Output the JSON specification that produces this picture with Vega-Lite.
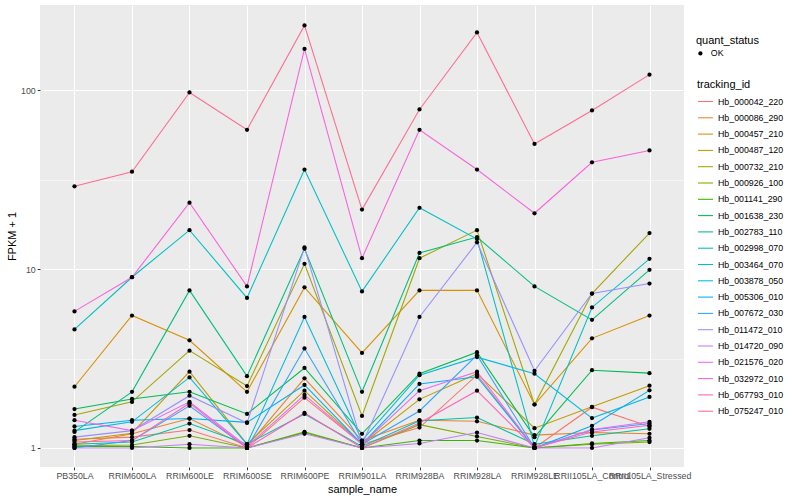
{
  "$schema": "https://vega.github.io/schema/vega-lite/v6.json",
  "autosize": "none",
  "width": 644,
  "height": 462,
  "padding": {"left": 40, "top": 5, "right": 116, "bottom": 33},
  "background": "white",
  "config": {
    "font": "Liberation Sans",
    "view": {"fill": "#EBEBEB", "stroke": null},
    "axis": {
      "domain": false,
      "gridColor": "white",
      "tickColor": "#333333",
      "tickSize": 2.75,
      "tickWidth": 1,
      "labelColor": "#4D4D4D",
      "labelFontSize": 8.8,
      "labelFont": "Liberation Sans",
      "titleFont": "Liberation Sans",
      "titleFontSize": 11,
      "titleFontWeight": "normal",
      "titleColor": "black",
      "labelPadding": 2
    },
    "legend": {
      "titleFont": "Liberation Sans",
      "titleFontSize": 11,
      "titleFontWeight": "normal",
      "titleColor": "black",
      "labelFont": "Liberation Sans",
      "labelFontSize": 8.8,
      "labelColor": "black",
      "padding": 0,
      "titlePadding": 3
    }
  },
  "data": {
    "values": [
      {"tracking_id": "Hb_000042_220", "sample_name": "PB350LA", "fpkm": 1.12, "quant_status": "OK"},
      {"tracking_id": "Hb_000042_220", "sample_name": "RRIM600LA", "fpkm": 1.15, "quant_status": "OK"},
      {"tracking_id": "Hb_000042_220", "sample_name": "RRIM600LE", "fpkm": 1.26, "quant_status": "OK"},
      {"tracking_id": "Hb_000042_220", "sample_name": "RRIM600SE", "fpkm": 1.0, "quant_status": "OK"},
      {"tracking_id": "Hb_000042_220", "sample_name": "RRIM600PE", "fpkm": 1.91, "quant_status": "OK"},
      {"tracking_id": "Hb_000042_220", "sample_name": "RRIM901LA", "fpkm": 1.05, "quant_status": "OK"},
      {"tracking_id": "Hb_000042_220", "sample_name": "RRIM928BA", "fpkm": 1.3, "quant_status": "OK"},
      {"tracking_id": "Hb_000042_220", "sample_name": "RRIM928LA", "fpkm": 2.56, "quant_status": "OK"},
      {"tracking_id": "Hb_000042_220", "sample_name": "RRIM928LE", "fpkm": 1.0, "quant_status": "OK"},
      {"tracking_id": "Hb_000042_220", "sample_name": "RRII105LA_Control", "fpkm": 1.69, "quant_status": "OK"},
      {"tracking_id": "Hb_000042_220", "sample_name": "RRII105LA_Stressed", "fpkm": 1.32, "quant_status": "OK"},

      {"tracking_id": "Hb_000086_290", "sample_name": "PB350LA", "fpkm": 1.05, "quant_status": "OK"},
      {"tracking_id": "Hb_000086_290", "sample_name": "RRIM600LA", "fpkm": 1.2, "quant_status": "OK"},
      {"tracking_id": "Hb_000086_290", "sample_name": "RRIM600LE", "fpkm": 1.46, "quant_status": "OK"},
      {"tracking_id": "Hb_000086_290", "sample_name": "RRIM600SE", "fpkm": 1.02, "quant_status": "OK"},
      {"tracking_id": "Hb_000086_290", "sample_name": "RRIM600PE", "fpkm": 2.45, "quant_status": "OK"},
      {"tracking_id": "Hb_000086_290", "sample_name": "RRIM901LA", "fpkm": 1.1, "quant_status": "OK"},
      {"tracking_id": "Hb_000086_290", "sample_name": "RRIM928BA", "fpkm": 1.43, "quant_status": "OK"},
      {"tracking_id": "Hb_000086_290", "sample_name": "RRIM928LA", "fpkm": 1.41, "quant_status": "OK"},
      {"tracking_id": "Hb_000086_290", "sample_name": "RRIM928LE", "fpkm": 1.18, "quant_status": "OK"},
      {"tracking_id": "Hb_000086_290", "sample_name": "RRII105LA_Control", "fpkm": 1.22, "quant_status": "OK"},
      {"tracking_id": "Hb_000086_290", "sample_name": "RRII105LA_Stressed", "fpkm": 1.2, "quant_status": "OK"},

      {"tracking_id": "Hb_000457_210", "sample_name": "PB350LA", "fpkm": 2.2, "quant_status": "OK"},
      {"tracking_id": "Hb_000457_210", "sample_name": "RRIM600LA", "fpkm": 5.5, "quant_status": "OK"},
      {"tracking_id": "Hb_000457_210", "sample_name": "RRIM600LE", "fpkm": 4.0, "quant_status": "OK"},
      {"tracking_id": "Hb_000457_210", "sample_name": "RRIM600SE", "fpkm": 2.06, "quant_status": "OK"},
      {"tracking_id": "Hb_000457_210", "sample_name": "RRIM600PE", "fpkm": 7.9, "quant_status": "OK"},
      {"tracking_id": "Hb_000457_210", "sample_name": "RRIM901LA", "fpkm": 3.4, "quant_status": "OK"},
      {"tracking_id": "Hb_000457_210", "sample_name": "RRIM928BA", "fpkm": 7.6, "quant_status": "OK"},
      {"tracking_id": "Hb_000457_210", "sample_name": "RRIM928LA", "fpkm": 7.6, "quant_status": "OK"},
      {"tracking_id": "Hb_000457_210", "sample_name": "RRIM928LE", "fpkm": 1.75, "quant_status": "OK"},
      {"tracking_id": "Hb_000457_210", "sample_name": "RRII105LA_Control", "fpkm": 4.1, "quant_status": "OK"},
      {"tracking_id": "Hb_000457_210", "sample_name": "RRII105LA_Stressed", "fpkm": 5.5, "quant_status": "OK"},

      {"tracking_id": "Hb_000487_120", "sample_name": "PB350LA", "fpkm": 1.1, "quant_status": "OK"},
      {"tracking_id": "Hb_000487_120", "sample_name": "RRIM600LA", "fpkm": 1.21, "quant_status": "OK"},
      {"tracking_id": "Hb_000487_120", "sample_name": "RRIM600LE", "fpkm": 2.67, "quant_status": "OK"},
      {"tracking_id": "Hb_000487_120", "sample_name": "RRIM600SE", "fpkm": 1.05, "quant_status": "OK"},
      {"tracking_id": "Hb_000487_120", "sample_name": "RRIM600PE", "fpkm": 2.09, "quant_status": "OK"},
      {"tracking_id": "Hb_000487_120", "sample_name": "RRIM901LA", "fpkm": 1.05, "quant_status": "OK"},
      {"tracking_id": "Hb_000487_120", "sample_name": "RRIM928BA", "fpkm": 1.87, "quant_status": "OK"},
      {"tracking_id": "Hb_000487_120", "sample_name": "RRIM928LA", "fpkm": 2.6, "quant_status": "OK"},
      {"tracking_id": "Hb_000487_120", "sample_name": "RRIM928LE", "fpkm": 1.29, "quant_status": "OK"},
      {"tracking_id": "Hb_000487_120", "sample_name": "RRII105LA_Control", "fpkm": 1.7, "quant_status": "OK"},
      {"tracking_id": "Hb_000487_120", "sample_name": "RRII105LA_Stressed", "fpkm": 2.23, "quant_status": "OK"},

      {"tracking_id": "Hb_000732_210", "sample_name": "PB350LA", "fpkm": 1.53, "quant_status": "OK"},
      {"tracking_id": "Hb_000732_210", "sample_name": "RRIM600LA", "fpkm": 1.81, "quant_status": "OK"},
      {"tracking_id": "Hb_000732_210", "sample_name": "RRIM600LE", "fpkm": 3.5, "quant_status": "OK"},
      {"tracking_id": "Hb_000732_210", "sample_name": "RRIM600SE", "fpkm": 2.22, "quant_status": "OK"},
      {"tracking_id": "Hb_000732_210", "sample_name": "RRIM600PE", "fpkm": 10.7, "quant_status": "OK"},
      {"tracking_id": "Hb_000732_210", "sample_name": "RRIM901LA", "fpkm": 1.51, "quant_status": "OK"},
      {"tracking_id": "Hb_000732_210", "sample_name": "RRIM928BA", "fpkm": 11.5, "quant_status": "OK"},
      {"tracking_id": "Hb_000732_210", "sample_name": "RRIM928LA", "fpkm": 16.5, "quant_status": "OK"},
      {"tracking_id": "Hb_000732_210", "sample_name": "RRIM928LE", "fpkm": 1.75, "quant_status": "OK"},
      {"tracking_id": "Hb_000732_210", "sample_name": "RRII105LA_Control", "fpkm": 7.3, "quant_status": "OK"},
      {"tracking_id": "Hb_000732_210", "sample_name": "RRII105LA_Stressed", "fpkm": 15.9, "quant_status": "OK"},

      {"tracking_id": "Hb_000926_100", "sample_name": "PB350LA", "fpkm": 1.03, "quant_status": "OK"},
      {"tracking_id": "Hb_000926_100", "sample_name": "RRIM600LA", "fpkm": 1.04, "quant_status": "OK"},
      {"tracking_id": "Hb_000926_100", "sample_name": "RRIM600LE", "fpkm": 1.17, "quant_status": "OK"},
      {"tracking_id": "Hb_000926_100", "sample_name": "RRIM600SE", "fpkm": 1.0, "quant_status": "OK"},
      {"tracking_id": "Hb_000926_100", "sample_name": "RRIM600PE", "fpkm": 1.23, "quant_status": "OK"},
      {"tracking_id": "Hb_000926_100", "sample_name": "RRIM901LA", "fpkm": 1.0, "quant_status": "OK"},
      {"tracking_id": "Hb_000926_100", "sample_name": "RRIM928BA", "fpkm": 1.35, "quant_status": "OK"},
      {"tracking_id": "Hb_000926_100", "sample_name": "RRIM928LA", "fpkm": 1.16, "quant_status": "OK"},
      {"tracking_id": "Hb_000926_100", "sample_name": "RRIM928LE", "fpkm": 1.0, "quant_status": "OK"},
      {"tracking_id": "Hb_000926_100", "sample_name": "RRII105LA_Control", "fpkm": 1.05, "quant_status": "OK"},
      {"tracking_id": "Hb_000926_100", "sample_name": "RRII105LA_Stressed", "fpkm": 1.08, "quant_status": "OK"},

      {"tracking_id": "Hb_001141_290", "sample_name": "PB350LA", "fpkm": 1.02, "quant_status": "OK"},
      {"tracking_id": "Hb_001141_290", "sample_name": "RRIM600LA", "fpkm": 1.02, "quant_status": "OK"},
      {"tracking_id": "Hb_001141_290", "sample_name": "RRIM600LE", "fpkm": 1.0, "quant_status": "OK"},
      {"tracking_id": "Hb_001141_290", "sample_name": "RRIM600SE", "fpkm": 1.0, "quant_status": "OK"},
      {"tracking_id": "Hb_001141_290", "sample_name": "RRIM600PE", "fpkm": 1.22, "quant_status": "OK"},
      {"tracking_id": "Hb_001141_290", "sample_name": "RRIM901LA", "fpkm": 1.0, "quant_status": "OK"},
      {"tracking_id": "Hb_001141_290", "sample_name": "RRIM928BA", "fpkm": 1.1, "quant_status": "OK"},
      {"tracking_id": "Hb_001141_290", "sample_name": "RRIM928LA", "fpkm": 1.1, "quant_status": "OK"},
      {"tracking_id": "Hb_001141_290", "sample_name": "RRIM928LE", "fpkm": 1.0, "quant_status": "OK"},
      {"tracking_id": "Hb_001141_290", "sample_name": "RRII105LA_Control", "fpkm": 1.06, "quant_status": "OK"},
      {"tracking_id": "Hb_001141_290", "sample_name": "RRII105LA_Stressed", "fpkm": 1.1, "quant_status": "OK"},

      {"tracking_id": "Hb_001638_230", "sample_name": "PB350LA", "fpkm": 1.65, "quant_status": "OK"},
      {"tracking_id": "Hb_001638_230", "sample_name": "RRIM600LA", "fpkm": 1.88, "quant_status": "OK"},
      {"tracking_id": "Hb_001638_230", "sample_name": "RRIM600LE", "fpkm": 2.06, "quant_status": "OK"},
      {"tracking_id": "Hb_001638_230", "sample_name": "RRIM600SE", "fpkm": 1.55, "quant_status": "OK"},
      {"tracking_id": "Hb_001638_230", "sample_name": "RRIM600PE", "fpkm": 2.8, "quant_status": "OK"},
      {"tracking_id": "Hb_001638_230", "sample_name": "RRIM901LA", "fpkm": 1.2, "quant_status": "OK"},
      {"tracking_id": "Hb_001638_230", "sample_name": "RRIM928BA", "fpkm": 2.6, "quant_status": "OK"},
      {"tracking_id": "Hb_001638_230", "sample_name": "RRIM928LA", "fpkm": 3.43, "quant_status": "OK"},
      {"tracking_id": "Hb_001638_230", "sample_name": "RRIM928LE", "fpkm": 1.15, "quant_status": "OK"},
      {"tracking_id": "Hb_001638_230", "sample_name": "RRII105LA_Control", "fpkm": 2.72, "quant_status": "OK"},
      {"tracking_id": "Hb_001638_230", "sample_name": "RRII105LA_Stressed", "fpkm": 2.62, "quant_status": "OK"},

      {"tracking_id": "Hb_002783_110", "sample_name": "PB350LA", "fpkm": 1.23, "quant_status": "OK"},
      {"tracking_id": "Hb_002783_110", "sample_name": "RRIM600LA", "fpkm": 2.06, "quant_status": "OK"},
      {"tracking_id": "Hb_002783_110", "sample_name": "RRIM600LE", "fpkm": 7.6, "quant_status": "OK"},
      {"tracking_id": "Hb_002783_110", "sample_name": "RRIM600SE", "fpkm": 2.52, "quant_status": "OK"},
      {"tracking_id": "Hb_002783_110", "sample_name": "RRIM600PE", "fpkm": 13.0, "quant_status": "OK"},
      {"tracking_id": "Hb_002783_110", "sample_name": "RRIM901LA", "fpkm": 2.06, "quant_status": "OK"},
      {"tracking_id": "Hb_002783_110", "sample_name": "RRIM928BA", "fpkm": 12.3, "quant_status": "OK"},
      {"tracking_id": "Hb_002783_110", "sample_name": "RRIM928LA", "fpkm": 15.1, "quant_status": "OK"},
      {"tracking_id": "Hb_002783_110", "sample_name": "RRIM928LE", "fpkm": 8.0, "quant_status": "OK"},
      {"tracking_id": "Hb_002783_110", "sample_name": "RRII105LA_Control", "fpkm": 5.2, "quant_status": "OK"},
      {"tracking_id": "Hb_002783_110", "sample_name": "RRII105LA_Stressed", "fpkm": 9.9, "quant_status": "OK"},

      {"tracking_id": "Hb_002998_070", "sample_name": "PB350LA", "fpkm": 1.05, "quant_status": "OK"},
      {"tracking_id": "Hb_002998_070", "sample_name": "RRIM600LA", "fpkm": 1.08, "quant_status": "OK"},
      {"tracking_id": "Hb_002998_070", "sample_name": "RRIM600LE", "fpkm": 1.37, "quant_status": "OK"},
      {"tracking_id": "Hb_002998_070", "sample_name": "RRIM600SE", "fpkm": 1.05, "quant_status": "OK"},
      {"tracking_id": "Hb_002998_070", "sample_name": "RRIM600PE", "fpkm": 1.55, "quant_status": "OK"},
      {"tracking_id": "Hb_002998_070", "sample_name": "RRIM901LA", "fpkm": 1.02, "quant_status": "OK"},
      {"tracking_id": "Hb_002998_070", "sample_name": "RRIM928BA", "fpkm": 1.42, "quant_status": "OK"},
      {"tracking_id": "Hb_002998_070", "sample_name": "RRIM928LA", "fpkm": 1.48, "quant_status": "OK"},
      {"tracking_id": "Hb_002998_070", "sample_name": "RRIM928LE", "fpkm": 1.05, "quant_status": "OK"},
      {"tracking_id": "Hb_002998_070", "sample_name": "RRII105LA_Control", "fpkm": 1.17, "quant_status": "OK"},
      {"tracking_id": "Hb_002998_070", "sample_name": "RRII105LA_Stressed", "fpkm": 1.28, "quant_status": "OK"},

      {"tracking_id": "Hb_003464_070", "sample_name": "PB350LA", "fpkm": 4.6, "quant_status": "OK"},
      {"tracking_id": "Hb_003464_070", "sample_name": "RRIM600LA", "fpkm": 9.0, "quant_status": "OK"},
      {"tracking_id": "Hb_003464_070", "sample_name": "RRIM600LE", "fpkm": 16.5, "quant_status": "OK"},
      {"tracking_id": "Hb_003464_070", "sample_name": "RRIM600SE", "fpkm": 6.9, "quant_status": "OK"},
      {"tracking_id": "Hb_003464_070", "sample_name": "RRIM600PE", "fpkm": 36.0, "quant_status": "OK"},
      {"tracking_id": "Hb_003464_070", "sample_name": "RRIM901LA", "fpkm": 7.5, "quant_status": "OK"},
      {"tracking_id": "Hb_003464_070", "sample_name": "RRIM928BA", "fpkm": 22.0, "quant_status": "OK"},
      {"tracking_id": "Hb_003464_070", "sample_name": "RRIM928LA", "fpkm": 14.7, "quant_status": "OK"},
      {"tracking_id": "Hb_003464_070", "sample_name": "RRIM928LE", "fpkm": 1.02, "quant_status": "OK"},
      {"tracking_id": "Hb_003464_070", "sample_name": "RRII105LA_Control", "fpkm": 6.1, "quant_status": "OK"},
      {"tracking_id": "Hb_003464_070", "sample_name": "RRII105LA_Stressed", "fpkm": 11.4, "quant_status": "OK"},

      {"tracking_id": "Hb_003878_050", "sample_name": "PB350LA", "fpkm": 1.25, "quant_status": "OK"},
      {"tracking_id": "Hb_003878_050", "sample_name": "RRIM600LA", "fpkm": 1.4, "quant_status": "OK"},
      {"tracking_id": "Hb_003878_050", "sample_name": "RRIM600LE", "fpkm": 2.48, "quant_status": "OK"},
      {"tracking_id": "Hb_003878_050", "sample_name": "RRIM600SE", "fpkm": 1.05, "quant_status": "OK"},
      {"tracking_id": "Hb_003878_050", "sample_name": "RRIM600PE", "fpkm": 5.4, "quant_status": "OK"},
      {"tracking_id": "Hb_003878_050", "sample_name": "RRIM901LA", "fpkm": 1.1, "quant_status": "OK"},
      {"tracking_id": "Hb_003878_050", "sample_name": "RRIM928BA", "fpkm": 2.55, "quant_status": "OK"},
      {"tracking_id": "Hb_003878_050", "sample_name": "RRIM928LA", "fpkm": 3.22, "quant_status": "OK"},
      {"tracking_id": "Hb_003878_050", "sample_name": "RRIM928LE", "fpkm": 2.6, "quant_status": "OK"},
      {"tracking_id": "Hb_003878_050", "sample_name": "RRII105LA_Control", "fpkm": 1.47, "quant_status": "OK"},
      {"tracking_id": "Hb_003878_050", "sample_name": "RRII105LA_Stressed", "fpkm": 1.93, "quant_status": "OK"},

      {"tracking_id": "Hb_005306_010", "sample_name": "PB350LA", "fpkm": 1.32, "quant_status": "OK"},
      {"tracking_id": "Hb_005306_010", "sample_name": "RRIM600LA", "fpkm": 1.43, "quant_status": "OK"},
      {"tracking_id": "Hb_005306_010", "sample_name": "RRIM600LE", "fpkm": 1.46, "quant_status": "OK"},
      {"tracking_id": "Hb_005306_010", "sample_name": "RRIM600SE", "fpkm": 1.39, "quant_status": "OK"},
      {"tracking_id": "Hb_005306_010", "sample_name": "RRIM600PE", "fpkm": 2.25, "quant_status": "OK"},
      {"tracking_id": "Hb_005306_010", "sample_name": "RRIM901LA", "fpkm": 1.05, "quant_status": "OK"},
      {"tracking_id": "Hb_005306_010", "sample_name": "RRIM928BA", "fpkm": 2.28, "quant_status": "OK"},
      {"tracking_id": "Hb_005306_010", "sample_name": "RRIM928LA", "fpkm": 2.5, "quant_status": "OK"},
      {"tracking_id": "Hb_005306_010", "sample_name": "RRIM928LE", "fpkm": 1.0, "quant_status": "OK"},
      {"tracking_id": "Hb_005306_010", "sample_name": "RRII105LA_Control", "fpkm": 1.33, "quant_status": "OK"},
      {"tracking_id": "Hb_005306_010", "sample_name": "RRII105LA_Stressed", "fpkm": 2.1, "quant_status": "OK"},

      {"tracking_id": "Hb_007672_030", "sample_name": "PB350LA", "fpkm": 1.0, "quant_status": "OK"},
      {"tracking_id": "Hb_007672_030", "sample_name": "RRIM600LA", "fpkm": 1.1, "quant_status": "OK"},
      {"tracking_id": "Hb_007672_030", "sample_name": "RRIM600LE", "fpkm": 1.72, "quant_status": "OK"},
      {"tracking_id": "Hb_007672_030", "sample_name": "RRIM600SE", "fpkm": 1.0, "quant_status": "OK"},
      {"tracking_id": "Hb_007672_030", "sample_name": "RRIM600PE", "fpkm": 3.6, "quant_status": "OK"},
      {"tracking_id": "Hb_007672_030", "sample_name": "RRIM901LA", "fpkm": 1.05, "quant_status": "OK"},
      {"tracking_id": "Hb_007672_030", "sample_name": "RRIM928BA", "fpkm": 1.61, "quant_status": "OK"},
      {"tracking_id": "Hb_007672_030", "sample_name": "RRIM928LA", "fpkm": 3.3, "quant_status": "OK"},
      {"tracking_id": "Hb_007672_030", "sample_name": "RRIM928LE", "fpkm": 1.0, "quant_status": "OK"},
      {"tracking_id": "Hb_007672_030", "sample_name": "RRII105LA_Control", "fpkm": 1.26, "quant_status": "OK"},
      {"tracking_id": "Hb_007672_030", "sample_name": "RRII105LA_Stressed", "fpkm": 1.37, "quant_status": "OK"},

      {"tracking_id": "Hb_011472_010", "sample_name": "PB350LA", "fpkm": 1.15, "quant_status": "OK"},
      {"tracking_id": "Hb_011472_010", "sample_name": "RRIM600LA", "fpkm": 1.25, "quant_status": "OK"},
      {"tracking_id": "Hb_011472_010", "sample_name": "RRIM600LE", "fpkm": 1.96, "quant_status": "OK"},
      {"tracking_id": "Hb_011472_010", "sample_name": "RRIM600SE", "fpkm": 1.38, "quant_status": "OK"},
      {"tracking_id": "Hb_011472_010", "sample_name": "RRIM600PE", "fpkm": 13.2, "quant_status": "OK"},
      {"tracking_id": "Hb_011472_010", "sample_name": "RRIM901LA", "fpkm": 1.05, "quant_status": "OK"},
      {"tracking_id": "Hb_011472_010", "sample_name": "RRIM928BA", "fpkm": 5.4, "quant_status": "OK"},
      {"tracking_id": "Hb_011472_010", "sample_name": "RRIM928LA", "fpkm": 14.1, "quant_status": "OK"},
      {"tracking_id": "Hb_011472_010", "sample_name": "RRIM928LE", "fpkm": 2.7, "quant_status": "OK"},
      {"tracking_id": "Hb_011472_010", "sample_name": "RRII105LA_Control", "fpkm": 7.3, "quant_status": "OK"},
      {"tracking_id": "Hb_011472_010", "sample_name": "RRII105LA_Stressed", "fpkm": 8.3, "quant_status": "OK"},

      {"tracking_id": "Hb_014720_090", "sample_name": "PB350LA", "fpkm": 1.0, "quant_status": "OK"},
      {"tracking_id": "Hb_014720_090", "sample_name": "RRIM600LA", "fpkm": 1.0, "quant_status": "OK"},
      {"tracking_id": "Hb_014720_090", "sample_name": "RRIM600LE", "fpkm": 1.05, "quant_status": "OK"},
      {"tracking_id": "Hb_014720_090", "sample_name": "RRIM600SE", "fpkm": 1.0, "quant_status": "OK"},
      {"tracking_id": "Hb_014720_090", "sample_name": "RRIM600PE", "fpkm": 1.2, "quant_status": "OK"},
      {"tracking_id": "Hb_014720_090", "sample_name": "RRIM901LA", "fpkm": 1.0, "quant_status": "OK"},
      {"tracking_id": "Hb_014720_090", "sample_name": "RRIM928BA", "fpkm": 1.06, "quant_status": "OK"},
      {"tracking_id": "Hb_014720_090", "sample_name": "RRIM928LA", "fpkm": 1.22, "quant_status": "OK"},
      {"tracking_id": "Hb_014720_090", "sample_name": "RRIM928LE", "fpkm": 1.0, "quant_status": "OK"},
      {"tracking_id": "Hb_014720_090", "sample_name": "RRII105LA_Control", "fpkm": 1.0, "quant_status": "OK"},
      {"tracking_id": "Hb_014720_090", "sample_name": "RRII105LA_Stressed", "fpkm": 1.14, "quant_status": "OK"},

      {"tracking_id": "Hb_021576_020", "sample_name": "PB350LA", "fpkm": 1.43, "quant_status": "OK"},
      {"tracking_id": "Hb_021576_020", "sample_name": "RRIM600LA", "fpkm": 1.25, "quant_status": "OK"},
      {"tracking_id": "Hb_021576_020", "sample_name": "RRIM600LE", "fpkm": 1.81, "quant_status": "OK"},
      {"tracking_id": "Hb_021576_020", "sample_name": "RRIM600SE", "fpkm": 1.02, "quant_status": "OK"},
      {"tracking_id": "Hb_021576_020", "sample_name": "RRIM600PE", "fpkm": 1.98, "quant_status": "OK"},
      {"tracking_id": "Hb_021576_020", "sample_name": "RRIM901LA", "fpkm": 1.05, "quant_status": "OK"},
      {"tracking_id": "Hb_021576_020", "sample_name": "RRIM928BA", "fpkm": 2.09, "quant_status": "OK"},
      {"tracking_id": "Hb_021576_020", "sample_name": "RRIM928LA", "fpkm": 2.67, "quant_status": "OK"},
      {"tracking_id": "Hb_021576_020", "sample_name": "RRIM928LE", "fpkm": 1.0, "quant_status": "OK"},
      {"tracking_id": "Hb_021576_020", "sample_name": "RRII105LA_Control", "fpkm": 1.27, "quant_status": "OK"},
      {"tracking_id": "Hb_021576_020", "sample_name": "RRII105LA_Stressed", "fpkm": 1.4, "quant_status": "OK"},

      {"tracking_id": "Hb_032972_010", "sample_name": "PB350LA", "fpkm": 5.8, "quant_status": "OK"},
      {"tracking_id": "Hb_032972_010", "sample_name": "RRIM600LA", "fpkm": 9.0, "quant_status": "OK"},
      {"tracking_id": "Hb_032972_010", "sample_name": "RRIM600LE", "fpkm": 23.5, "quant_status": "OK"},
      {"tracking_id": "Hb_032972_010", "sample_name": "RRIM600SE", "fpkm": 8.0, "quant_status": "OK"},
      {"tracking_id": "Hb_032972_010", "sample_name": "RRIM600PE", "fpkm": 170.0, "quant_status": "OK"},
      {"tracking_id": "Hb_032972_010", "sample_name": "RRIM901LA", "fpkm": 11.5, "quant_status": "OK"},
      {"tracking_id": "Hb_032972_010", "sample_name": "RRIM928BA", "fpkm": 60.0, "quant_status": "OK"},
      {"tracking_id": "Hb_032972_010", "sample_name": "RRIM928LA", "fpkm": 36.0, "quant_status": "OK"},
      {"tracking_id": "Hb_032972_010", "sample_name": "RRIM928LE", "fpkm": 20.5, "quant_status": "OK"},
      {"tracking_id": "Hb_032972_010", "sample_name": "RRII105LA_Control", "fpkm": 39.5, "quant_status": "OK"},
      {"tracking_id": "Hb_032972_010", "sample_name": "RRII105LA_Stressed", "fpkm": 46.0, "quant_status": "OK"},

      {"tracking_id": "Hb_067793_010", "sample_name": "PB350LA", "fpkm": 1.08, "quant_status": "OK"},
      {"tracking_id": "Hb_067793_010", "sample_name": "RRIM600LA", "fpkm": 1.1, "quant_status": "OK"},
      {"tracking_id": "Hb_067793_010", "sample_name": "RRIM600LE", "fpkm": 1.78, "quant_status": "OK"},
      {"tracking_id": "Hb_067793_010", "sample_name": "RRIM600SE", "fpkm": 1.0, "quant_status": "OK"},
      {"tracking_id": "Hb_067793_010", "sample_name": "RRIM600PE", "fpkm": 1.57, "quant_status": "OK"},
      {"tracking_id": "Hb_067793_010", "sample_name": "RRIM901LA", "fpkm": 1.0, "quant_status": "OK"},
      {"tracking_id": "Hb_067793_010", "sample_name": "RRIM928BA", "fpkm": 1.38, "quant_status": "OK"},
      {"tracking_id": "Hb_067793_010", "sample_name": "RRIM928LA", "fpkm": 2.09, "quant_status": "OK"},
      {"tracking_id": "Hb_067793_010", "sample_name": "RRIM928LE", "fpkm": 1.0, "quant_status": "OK"},
      {"tracking_id": "Hb_067793_010", "sample_name": "RRII105LA_Control", "fpkm": 1.23, "quant_status": "OK"},
      {"tracking_id": "Hb_067793_010", "sample_name": "RRII105LA_Stressed", "fpkm": 1.34, "quant_status": "OK"},

      {"tracking_id": "Hb_075247_010", "sample_name": "PB350LA", "fpkm": 29.0, "quant_status": "OK"},
      {"tracking_id": "Hb_075247_010", "sample_name": "RRIM600LA", "fpkm": 35.0, "quant_status": "OK"},
      {"tracking_id": "Hb_075247_010", "sample_name": "RRIM600LE", "fpkm": 97.0, "quant_status": "OK"},
      {"tracking_id": "Hb_075247_010", "sample_name": "RRIM600SE", "fpkm": 60.0, "quant_status": "OK"},
      {"tracking_id": "Hb_075247_010", "sample_name": "RRIM600PE", "fpkm": 230.0, "quant_status": "OK"},
      {"tracking_id": "Hb_075247_010", "sample_name": "RRIM901LA", "fpkm": 21.5, "quant_status": "OK"},
      {"tracking_id": "Hb_075247_010", "sample_name": "RRIM928BA", "fpkm": 78.0, "quant_status": "OK"},
      {"tracking_id": "Hb_075247_010", "sample_name": "RRIM928LA", "fpkm": 210.0, "quant_status": "OK"},
      {"tracking_id": "Hb_075247_010", "sample_name": "RRIM928LE", "fpkm": 50.0, "quant_status": "OK"},
      {"tracking_id": "Hb_075247_010", "sample_name": "RRII105LA_Control", "fpkm": 77.0, "quant_status": "OK"},
      {"tracking_id": "Hb_075247_010", "sample_name": "RRII105LA_Stressed", "fpkm": 122.0, "quant_status": "OK"}
    ]
  },
  "encoding": {
    "x": {
      "field": "sample_name",
      "type": "nominal",
      "sort": null,
      "scale": {"type": "point", "padding": 0.6},
      "axis": {
        "title": "sample_name",
        "labelAngle": 0,
        "labelOverlap": false,
        "labelBound": false,
        "grid": true,
        "gridWidth": 1.07,
        "titlePadding": 3
      }
    },
    "y": {
      "field": "fpkm",
      "type": "quantitative",
      "scale": {"type": "log", "domain": [0.783, 299], "nice": false, "zero": false},
      "axis": {
        "title": "FPKM + 1",
        "values": [1, 3.1623, 10, 31.623, 100],
        "labelExpr": "(datum.value == 1 || datum.value == 10 || datum.value == 100) ? datum.label : ''",
        "format": "d",
        "grid": true,
        "gridWidth": {"condition": {"test": "datum.value == 1 || datum.value == 10 || datum.value == 100", "value": 1.07}, "value": 0.53},
        "tickOpacity": {"condition": {"test": "datum.value == 1 || datum.value == 10 || datum.value == 100", "value": 1}, "value": 0},
        "titlePadding": 3
      }
    }
  },
  "layer": [
    {
      "mark": {"type": "line", "strokeWidth": 1.07},
      "encoding": {
        "color": {
          "field": "tracking_id",
          "type": "nominal",
          "scale": {
            "domain": ["Hb_000042_220", "Hb_000086_290", "Hb_000457_210", "Hb_000487_120", "Hb_000732_210", "Hb_000926_100", "Hb_001141_290", "Hb_001638_230", "Hb_002783_110", "Hb_002998_070", "Hb_003464_070", "Hb_003878_050", "Hb_005306_010", "Hb_007672_030", "Hb_011472_010", "Hb_014720_090", "Hb_021576_020", "Hb_032972_010", "Hb_067793_010", "Hb_075247_010"],
            "range": ["#F8766D", "#EA8331", "#D89000", "#C09B00", "#A3A500", "#7CAE00", "#39B600", "#00BB4E", "#00BF7D", "#00C1A3", "#00BFC4", "#00BAE0", "#00B0F6", "#35A2FF", "#9590FF", "#C77CFF", "#E76BF3", "#FA62DB", "#FF62BC", "#FF6C91"]
          },
          "legend": {
            "title": "tracking_id",
            "orient": "none",
            "legendX": 657,
            "legendY": 74,
            "symbolType": "stroke",
            "symbolSize": 225,
            "symbolStrokeWidth": 1.07,
            "rowPadding": 2.3,
            "labelOffset": 4
          }
        }
      }
    },
    {
      "mark": {"type": "point", "filled": true, "opacity": 1, "color": "black"},
      "encoding": {
        "shape": {
          "field": "quant_status",
          "type": "nominal",
          "scale": {"range": ["circle"]},
          "legend": {
            "title": "quant_status",
            "orient": "none",
            "legendX": 656,
            "legendY": 30,
            "symbolSize": 18,
            "symbolFillColor": "black",
            "symbolStrokeColor": "black",
            "labelOffset": 6,
            "rowPadding": 2
          }
        },
        "size": {"value": 18}
      }
    }
  ]
}
